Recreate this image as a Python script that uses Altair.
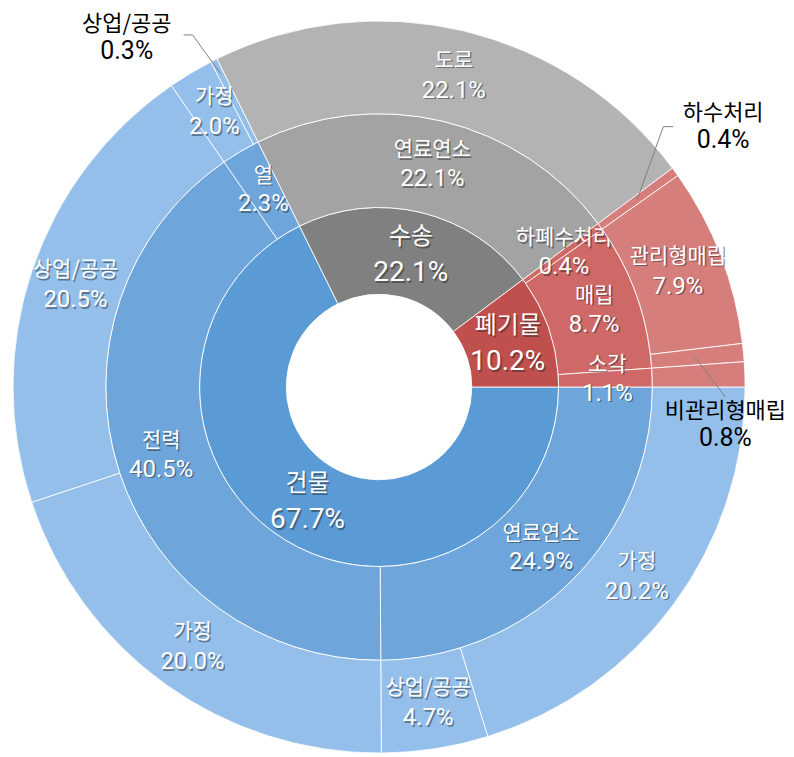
import math
import altair as alt
import pandas as pd

# ---------------- data ----------------
inner_names = ["건물", "수송", "폐기물"]
inner_values = [67.7, 22.1, 10.2]

mid_groups = ["건물", "건물", "건물", "수송", "폐기물", "폐기물", "폐기물"]
mid_names = ["연료연소", "전력", "열", "연료연소", "하폐수처리", "매립", "소각"]
mid_values = [24.9, 40.5, 2.3, 22.1, 0.4, 8.7, 1.1]

outer_groups = ["건물"] * 6 + ["수송"] + ["폐기물"] * 4
outer_names = ["가정", "상업/공공", "가정", "상업/공공", "가정", "상업/공공",
               "도로", "하수처리", "관리형매립", "비관리형매립", "소각"]
outer_values = [20.2, 4.7, 20.0, 20.5, 2.0, 0.3, 22.1, 0.4, 7.9, 0.8, 1.1]
# label placement: "in" = inside slice, "out" = outside with leader line, "" = none
outer_label_mode = ["in", "in", "in", "in", "in", "out", "in", "out", "in", "out", ""]

# ---------------- style ----------------
inner_colors = {"건물": "#5B9BD5", "수송": "#808080", "폐기물": "#C0504D"}
mid_colors = {"건물": "#6EA6DB", "수송": "#A3A3A3", "폐기물": "#CF6967"}
outer_colors = {"건물": "#93BFEA", "수송": "#B3B3B3", "폐기물": "#D67E7C"}

W, H = 744, 758
CX, CY = W / 2, H / 2
KFONT = "Noto Sans CJK KR"
NFONT = "Roboto, 'Noto Sans CJK KR'"
R_HOLE, R1, R2, R3 = 93, 180, 274, 367

theta_scale = alt.Scale(domain=[0, 100], range=[math.pi / 2, math.pi / 2 + 2 * math.pi])


def fmt(v):
    return f"{v:.1f}%"


inner_df = pd.DataFrame({
    "idx": range(len(inner_names)),
    "value": inner_values,
    "color": [inner_colors[n] for n in inner_names],
    "name": inner_names,
    "pct": [fmt(v) for v in inner_values],
})
mid_df = pd.DataFrame({
    "idx": range(len(mid_names)),
    "value": mid_values,
    "color": [mid_colors[g] for g in mid_groups],
    "name": mid_names,
    "pct": [fmt(v) for v in mid_values],
})
outer_df = pd.DataFrame({
    "idx": range(len(outer_names)),
    "value": outer_values,
    "color": [outer_colors[g] for g in outer_groups],
    "name": [n if m == "in" else "" for n, m in zip(outer_names, outer_label_mode)],
    "pct": [fmt(v) if m == "in" else "" for v, m in zip(outer_values, outer_label_mode)],
})


def ring(df, r0, r1, rt, fs_name, fs_val, lh):
    base = alt.Chart(df).encode(
        theta=alt.Theta("value:Q", stack=True, scale=theta_scale),
        order=alt.Order("idx:Q"),
    )
    arc = base.mark_arc(innerRadius=r0, outerRadius=r1, stroke="white",
                        strokeWidth=1, strokeOpacity=0.85).encode(
        color=alt.Color("color:N", scale=None))
    out = [arc]
    for field, font, fs, dy in [("name", KFONT, fs_name, -lh / 2),
                                ("pct", NFONT, fs_val, lh / 2)]:
        shadow = base.mark_text(radius=rt, dx=1.5, dy=dy + 1.5, font=font, fontSize=fs,
                                color="#222222", opacity=0.45, baseline="middle",
                                align="center").encode(text=f"{field}:N")
        txt = base.mark_text(radius=rt, dy=dy, font=font, fontSize=fs, color="white",
                             baseline="middle", align="center").encode(text=f"{field}:N")
        out += [shadow, txt]
    return out


# ---------------- outside labels & leader lines ----------------
def polar(deg, r):
    a = math.radians(deg)
    return CX + r * math.sin(a), CY - r * math.cos(a)


OUT_LH = 27
# layout for outside labels: label radius, offset, leader start radius, leader points rel. to label
out_layout = {
    5: dict(r=400, off=(-72.5, 7), rs=352, pts=[(66, -3), (57, -3)]),
    7: dict(r=400, off=(21.4, -25.9), rs=320, pts=[(-60, 0), (-50, 0)]),
    9: dict(r=400, off=(-51, 75.6), rs=318, pts=[(0, -28)]),
}

cum = 0.0
lab_rows, line_rows = [], []
for i, v in enumerate(outer_values):
    mid_deg = 90 + (cum + v / 2) * 3.6
    cum += v
    if outer_label_mode[i] != "out":
        continue
    L = out_layout[i]
    px, py = polar(mid_deg, L["r"])
    lx, ly = px + L["off"][0], py + L["off"][1]
    lab_rows.append({"x": lx, "yn": ly - OUT_LH / 2, "yv": ly + OUT_LH / 2,
                     "name": outer_names[i], "pct": fmt(v)})
    sx, sy = polar(mid_deg, L["rs"])
    line_rows.append({"line": i, "pt": 0, "x": sx, "y": sy})
    for k, (ox, oy) in enumerate(L["pts"]):
        line_rows.append({"line": i, "pt": k + 1, "x": lx + ox, "y": ly + oy})

lab_df = pd.DataFrame(lab_rows)
line_df = pd.DataFrame(line_rows)

leaders = alt.Chart(line_df).mark_line(color="#808080", strokeWidth=1).encode(
    x=alt.X("x:Q", scale=None, axis=None),
    y=alt.Y("y:Q", scale=None, axis=None),
    detail="line:N",
    order="pt:Q",
)
out_name = alt.Chart(lab_df).mark_text(font=KFONT, fontSize=22, color="black",
                                       baseline="middle", align="center").encode(
    x=alt.X("x:Q", scale=None, axis=None),
    y=alt.Y("yn:Q", scale=None, axis=None),
    text="name:N",
)
out_val = alt.Chart(lab_df).mark_text(font=NFONT, fontSize=25, color="black",
                                      baseline="middle", align="center").encode(
    x=alt.X("x:Q", scale=None, axis=None),
    y=alt.Y("yv:Q", scale=None, axis=None),
    text="pct:N",
)

layers = []
layers += ring(inner_df, R_HOLE, R1, 136, 24, 28, 36)
layers += ring(mid_df, R1, R2, 229, 21, 24, 29)
layers += ring(outer_df, R2, R3, 321, 21, 24, 30)
layers += [leaders, out_name, out_val]

chart = alt.layer(*layers).properties(
    width=W, height=H, padding=0, background="white"
).configure_view(stroke=None)

chart.save("out.html", embed_options={"renderer": "svg", "actions": False})
